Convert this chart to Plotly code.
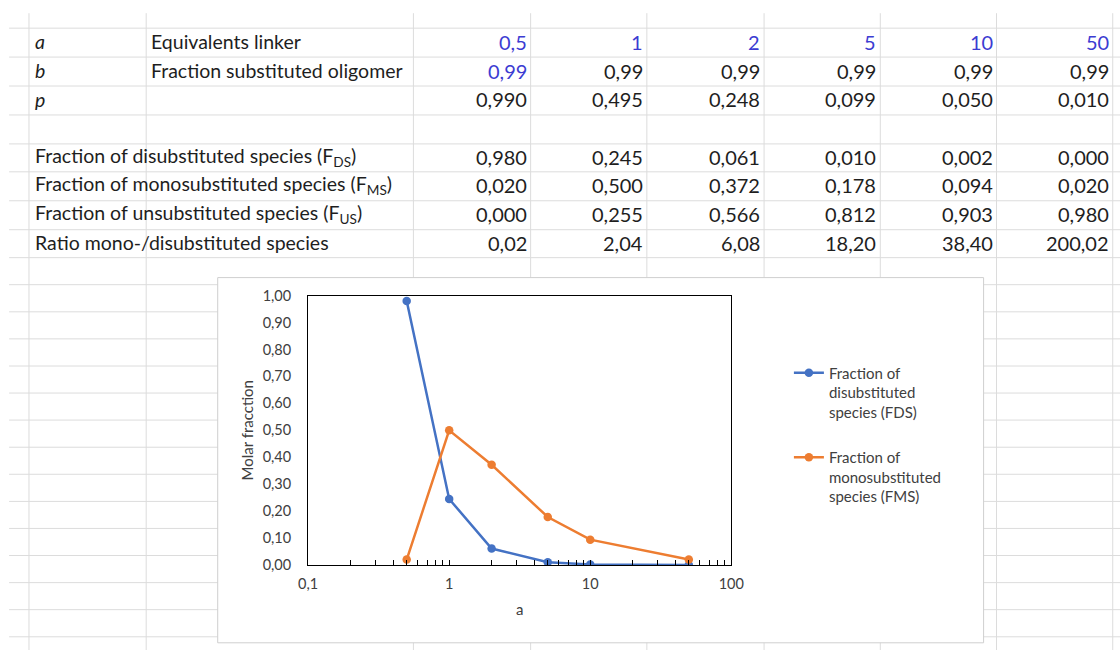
import plotly.graph_objects as go

# ---- worksheet values ----
a_vals = [0.5, 1, 2, 5, 10, 50]
b_vals = [0.99, 0.99, 0.99, 0.99, 0.99, 0.99]
p_vals = [0.990, 0.495, 0.248, 0.099, 0.050, 0.010]
f_ds = [0.980, 0.245, 0.061, 0.010, 0.002, 0.000]
f_ms = [0.020, 0.500, 0.372, 0.178, 0.094, 0.020]
f_us = [0.000, 0.255, 0.566, 0.812, 0.903, 0.980]
ratio = [0.02, 2.04, 6.08, 18.20, 38.40, 200.02]

W, H = 1120, 650
# sheet layout is measured in screen pixels; the page places the figure
# with a small inset and slight shrink, which these factors undo
OX, OY = 7.9, 7.8
SX, SY = 0.986, 0.976
FONT = "Lato"
INK = "#1e1e1e"
BLUE_INPUT = "#3c3cd2"
GRID = "#dcdcdc"


def px(x):
    """screen x (pixels) -> paper fraction"""
    return ((x - OX) / SX) / W


def py(y):
    """screen y (pixels, from top) -> paper fraction"""
    return 1 - ((y - OY) / SY) / H


def fmt(v, nd):
    return f"{v:.{nd}f}".replace(".", ",")


def fmt_a(v):
    return (f"{v:g}").replace(".", ",")


# ---- sheet grid geometry ----
col_edges = [27, 145, 414, 532, 649, 767, 884, 1001, 1118]
row_edges = [27, 56, 85, 114, 143, 171, 200, 229, 257]
row_edges += [round(257 + 27.14 * k, 1) for k in range(1, 15)]

shapes = []
for x in col_edges:
    shapes.append(dict(type="line", xref="paper", yref="paper",
                       x0=px(x), x1=px(x), y0=py(12), y1=py(660),
                       line=dict(color=GRID, width=1), layer="below"))
for y in row_edges:
    shapes.append(dict(type="line", xref="paper", yref="paper",
                       x0=px(7), x1=px(1130), y0=py(y), y1=py(y),
                       line=dict(color=GRID, width=1), layer="below"))

# chart object frame
shapes.append(dict(type="rect", xref="paper", yref="paper",
                   x0=px(217), x1=px(988), y0=py(643), y1=py(277),
                   fillcolor="white", line=dict(color="#cfcfcf", width=1),
                   layer="below"))

# ---- sheet text ----
annotations = []
LABEL_SIZE = 19.5
NUM_SIZE = 20


def cell_text(text, x, y, anchor="left", color=INK, italic=False, size=LABEL_SIZE):
    annotations.append(dict(
        text=f"<i>{text}</i>" if italic else text,
        xref="paper", yref="paper", x=px(x), y=py(y),
        xanchor=anchor, yanchor="middle", showarrow=False,
        font=dict(family=FONT, size=size, color=color)))


value_right = col_edges[3:]
row_mid = [(row_edges[i] + row_edges[i + 1]) / 2 - 1 for i in range(8)]

cell_text("a", 31, row_mid[0], italic=True)
cell_text("Equivalents linker", 148, row_mid[0])
cell_text("b", 31, row_mid[1], italic=True)
cell_text("Fraction substituted oligomer", 148, row_mid[1])
cell_text("p", 31, row_mid[2], italic=True)
cell_text("Fraction of disubstituted species (F<sub>DS</sub>)", 31, row_mid[4])
cell_text("Fraction of monosubstituted species (F<sub>MS</sub>)", 31, row_mid[5])
cell_text("Fraction of unsubstituted species (F<sub>US</sub>)", 31, row_mid[6])
cell_text("Ratio mono-/disubstituted species", 31, row_mid[7])

for i in range(6):
    xr = value_right[i] - 2
    cell_text(fmt_a(a_vals[i]), xr, row_mid[0], "right", BLUE_INPUT, size=NUM_SIZE)
    cell_text(fmt(b_vals[i], 2), xr, row_mid[1], "right",
              BLUE_INPUT if i == 0 else INK, size=NUM_SIZE)
    cell_text(fmt(p_vals[i], 3), xr, row_mid[2], "right", size=NUM_SIZE)
    cell_text(fmt(f_ds[i], 3), xr, row_mid[4], "right", size=NUM_SIZE)
    cell_text(fmt(f_ms[i], 3), xr, row_mid[5], "right", size=NUM_SIZE)
    cell_text(fmt(f_us[i], 3), xr, row_mid[6], "right", size=NUM_SIZE)
    cell_text(fmt(ratio[i], 2), xr, row_mid[7], "right", size=NUM_SIZE)

# ---- chart ----
fig = go.Figure()
fig.add_trace(go.Scatter(
    x=a_vals, y=f_ds, mode="lines+markers",
    name="Fraction of<br>disubstituted<br>species (FDS)",
    legendgroup="ds",
    line=dict(color="#4472C4", width=2.5),
    marker=dict(size=8.5, color="#4472C4")))
fig.add_trace(go.Scatter(
    x=a_vals, y=f_ms, mode="lines+markers",
    name="Fraction of<br>monosubstituted<br>species (FMS)",
    legendgroup="ms",
    line=dict(color="#ED7D31", width=2.5),
    marker=dict(size=8.5, color="#ED7D31")))

AX = "#404040"
TICK_SIZE = 14.5
fig.update_layout(
    width=W, height=H,
    margin=dict(l=0, r=0, t=0, b=0),
    paper_bgcolor="white",
    plot_bgcolor="white",
    separators=", ",
    font=dict(family=FONT, color=AX),
    shapes=shapes,
    annotations=annotations,
    showlegend=True,
    legend=dict(x=px(792), y=py(356), xanchor="left", yanchor="top",
                font=dict(family=FONT, size=15, color=AX),
                bgcolor="rgba(0,0,0,0)", valign="top",
                tracegroupgap=23, itemwidth=30),
    xaxis=dict(
        domain=[px(308), px(734)],
        type="log", range=[-1, 2], dtick=1,
        showgrid=False, zeroline=False,
        showline=True, linecolor="black", linewidth=1, mirror=True,
        ticks="inside", ticklen=5, tickcolor="black",
        minor=dict(ticks="inside", ticklen=5, tickcolor="black",
                   dtick="D1", showgrid=False),
        ticklabelstandoff=6,
        tickfont=dict(family=FONT, size=TICK_SIZE, color=AX),
        title=dict(text="a", font=dict(family=FONT, size=15, color=AX),
                   standoff=13),
    ),
    yaxis=dict(
        domain=[py(565), py(295)],
        range=[0, 1], dtick=0.1, tickformat=".2f",
        showgrid=False, zeroline=False,
        showline=True, linecolor="black", linewidth=1, mirror=True,
        ticks="", ticklabelstandoff=13,
        tickfont=dict(family=FONT, size=TICK_SIZE, color=AX),
        title=dict(text="Molar fracction",
                   font=dict(family=FONT, size=15, color=AX),
                   standoff=5),
    ),
)

fig.write_html("out.html")
